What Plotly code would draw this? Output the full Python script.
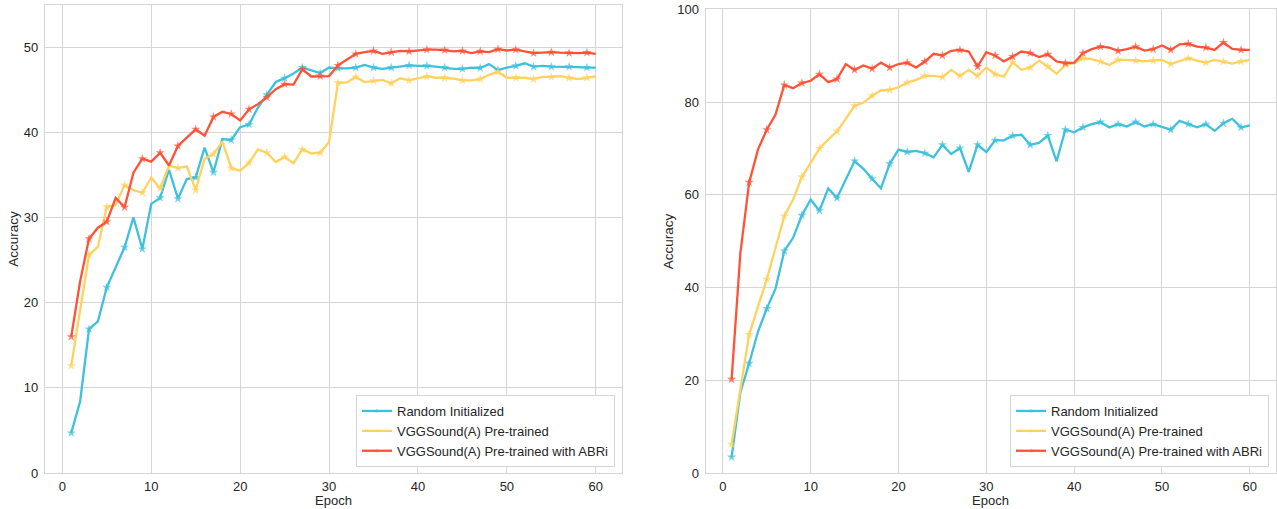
import plotly.graph_objects as go

epochs = list(range(1, 61))

left_random = [4.7, 8.4, 16.9, 17.8, 21.8, 24.2, 26.5, 30.0, 26.3, 31.6,
               32.3, 35.6, 32.2, 34.5, 34.7, 38.2, 35.3, 39.2, 39.1, 40.6,
               40.9, 42.9, 44.4, 45.9, 46.35, 46.9, 47.6, 47.25, 46.95, 47.6,
               47.5, 47.5, 47.6, 47.9, 47.6, 47.45, 47.6, 47.7, 47.85, 47.8,
               47.8, 47.7, 47.6, 47.45, 47.45, 47.6, 47.55, 48.0, 47.3, 47.6,
               47.8, 48.1, 47.7, 47.8, 47.7, 47.7, 47.7, 47.65, 47.6, 47.6]
left_pre = [12.6, 19.2, 25.6, 26.55, 31.25, 31.45, 33.8, 33.2, 32.9, 34.7,
            33.4, 36.1, 35.8, 36.0, 33.2, 36.9, 37.45, 38.9, 35.8, 35.5,
            36.4, 38.0, 37.6, 36.5, 37.1, 36.35, 38.0, 37.5, 37.6, 38.85,
            45.8, 45.85, 46.5, 45.9, 46.05, 46.15, 45.75, 46.35, 46.1, 46.3,
            46.55, 46.4, 46.4, 46.3, 46.1, 46.1, 46.25, 46.75, 47.1, 46.4,
            46.4, 46.4, 46.25, 46.5, 46.5, 46.6, 46.4, 46.25, 46.4, 46.55]
left_abri = [16.0, 22.5, 27.5, 28.8, 29.5, 32.3, 31.2, 35.25, 36.9, 36.55,
             37.6, 36.1, 38.4, 39.4, 40.35, 39.6, 41.8, 42.4, 42.15, 41.4,
             42.7, 43.3, 44.1, 45.05, 45.65, 45.6, 47.4, 46.55, 46.6, 46.6,
             47.85, 48.5, 49.2, 49.4, 49.55, 49.2, 49.4, 49.55, 49.5, 49.6,
             49.7, 49.7, 49.65, 49.5, 49.55, 49.3, 49.5, 49.4, 49.75, 49.6,
             49.7, 49.5, 49.3, 49.35, 49.4, 49.35, 49.3, 49.3, 49.35, 49.2]

right_random = [3.5, 17.5, 23.7, 30.5, 35.5, 39.8, 47.9, 50.75, 55.6, 59.0,
                56.6, 61.4, 59.35, 63.3, 67.3, 65.6, 63.5, 61.4, 66.7, 69.75,
                69.25, 69.5, 69.0, 68.1, 70.8, 68.8, 70.1, 64.95, 70.8, 69.25,
                71.75, 71.75, 72.75, 72.95, 70.8, 71.2, 72.8, 67.25, 74.05, 73.5,
                74.55, 75.25, 75.7, 74.55, 75.25, 74.75, 75.7, 74.75, 75.25, 74.6,
                74.05, 75.95, 75.25, 74.55, 75.25, 73.8, 75.45, 76.4, 74.55, 75.0]
right_pre = [6.25, 18.1, 29.9, 35.9, 41.8, 48.6, 55.4, 59.0, 63.9, 66.9,
             70.0, 71.9, 73.7, 76.4, 79.2, 79.9, 81.4, 82.5, 82.65, 83.2,
             84.2, 84.8, 85.65, 85.65, 85.4, 86.95, 85.65, 86.95, 85.65, 87.45,
             86.0, 85.5, 88.6, 86.95, 87.45, 88.95, 87.65, 86.1, 88.0, 88.4,
             89.45, 89.25, 88.75, 88.0, 89.1, 89.1, 88.95, 88.8, 88.95, 89.1,
             88.2, 88.9, 89.45, 88.95, 88.5, 89.1, 88.75, 88.3, 88.75, 89.1]
right_abri = [20.25, 47.5, 62.7, 69.75, 74.05, 77.3, 83.7, 83.0, 84.1, 84.6,
              86.0, 84.3, 84.95, 88.2, 86.95, 87.9, 87.2, 88.5, 87.45, 88.2,
              88.5, 87.45, 88.75, 90.4, 90.05, 91.05, 91.25, 90.9, 87.65, 90.75,
              90.05, 88.75, 89.8, 90.9, 90.55, 89.7, 90.3, 88.75, 88.4, 88.5,
              90.55, 91.4, 91.95, 91.75, 91.05, 91.4, 91.95, 91.1, 91.4, 92.2,
              91.25, 92.45, 92.55, 91.95, 91.75, 91.25, 92.85, 91.45, 91.25, 91.25]

names = ["Random Initialized", "VGGSound(A) Pre-trained",
         "VGGSound(A) Pre-trained with ABRi"]
colors = ["#3dc1dc", "#ffd25e", "#ff5236"]

x_ticks = [0, 10, 20, 30, 40, 50, 60]
left_y_ticks = [0, 10, 20, 30, 40, 50]
right_y_ticks = [0, 20, 40, 60, 80, 100]

FONT = "Liberation Sans, Arial, sans-serif"
TXT = "#262626"
GRID = "#d5d5d5"

W, H = 1277, 509
marker_sizes = [7 if (e % 2 == 1) else 0 for e in epochs]

fig = go.Figure()
panels = [
    ("x", "y", [left_random, left_pre, left_abri], "legend"),
    ("x2", "y2", [right_random, right_pre, right_abri], "legend2"),
]
for xa, ya, series, lg in panels:
    for name, col, vals in zip(names, colors, series):
        fig.add_trace(go.Scatter(
            x=epochs, y=vals, name=name, mode="lines+markers",
            xaxis=xa, yaxis=ya,
            line=dict(color=col, width=2.3),
            marker=dict(symbol="star", size=marker_sizes, color=col,
                        line=dict(width=0)),
            legend=lg, showlegend=True,
        ))

axis_common = dict(
    showgrid=True, gridcolor=GRID, gridwidth=1,
    showline=True, linecolor=GRID, linewidth=1.3, mirror=True,
    zeroline=False,
    tickfont=dict(family=FONT, size=13, color=TXT),
    automargin=False,
)
x_axis_extra = dict(ticks="outside", ticklen=1, tickcolor="rgba(0,0,0,0)")
y_axis_extra = dict(ticks="outside", ticklen=3, tickcolor="rgba(0,0,0,0)")

xl0, xl1 = 45 / W, 622 / W
xr0, xr1 = 705.7 / W, 1275.7 / W
yl0, yl1 = 1 - 473 / H, 1 - 4.5 / H
yr0, yr1 = 1 - 473.3 / H, 1 - 9.3 / H

legend_style = dict(xanchor="right", yanchor="bottom", bgcolor="white",
                    bordercolor="#d5d5d5", borderwidth=1, itemwidth=30,
                    font=dict(family=FONT, size=13, color=TXT))

fig.update_layout(
    width=W, height=H,
    margin=dict(l=0, r=0, t=0, b=0),
    paper_bgcolor="white", plot_bgcolor="white",
    font=dict(family=FONT, size=13, color=TXT),
    xaxis=dict(domain=[xl0, xl1], range=[-1.95, 62.95], tickvals=x_ticks,
               anchor="y", **axis_common, **x_axis_extra),
    yaxis=dict(domain=[yl0, yl1], range=[0, 55], tickvals=left_y_ticks,
               anchor="x", **axis_common, **y_axis_extra),
    xaxis2=dict(domain=[xr0, xr1], range=[-1.95, 62.95], tickvals=x_ticks,
                anchor="y2", **axis_common, **x_axis_extra),
    yaxis2=dict(domain=[yr0, yr1], range=[0, 100], tickvals=right_y_ticks,
                anchor="x2", **axis_common, **y_axis_extra),
    legend=dict(x=615 / W, y=1 - 467 / H, **legend_style),
    legend2=dict(x=1269 / W, y=1 - 467 / H, **legend_style),
    annotations=[
        dict(text="Accuracy", x=14 / W, y=(yl0 + yl1) / 2, xref="paper",
             yref="paper", textangle=-90, showarrow=False,
             xanchor="center", yanchor="middle",
             font=dict(family=FONT, size=13.5, color=TXT)),
        dict(text="Accuracy", x=668 / W, y=(yr0 + yr1) / 2, xref="paper",
             yref="paper", textangle=-90, showarrow=False,
             xanchor="center", yanchor="middle",
             font=dict(family=FONT, size=13.5, color=TXT)),
        dict(text="Epoch", x=(xl0 + xl1) / 2, y=1 - 500.5 / H, xref="paper",
             yref="paper", showarrow=False, xanchor="center", yanchor="middle",
             font=dict(family=FONT, size=13, color=TXT)),
        dict(text="Epoch", x=(xr0 + xr1) / 2, y=1 - 500.5 / H, xref="paper",
             yref="paper", showarrow=False, xanchor="center", yanchor="middle",
             font=dict(family=FONT, size=13, color=TXT)),
    ],
)

fig.write_html("out.html")
